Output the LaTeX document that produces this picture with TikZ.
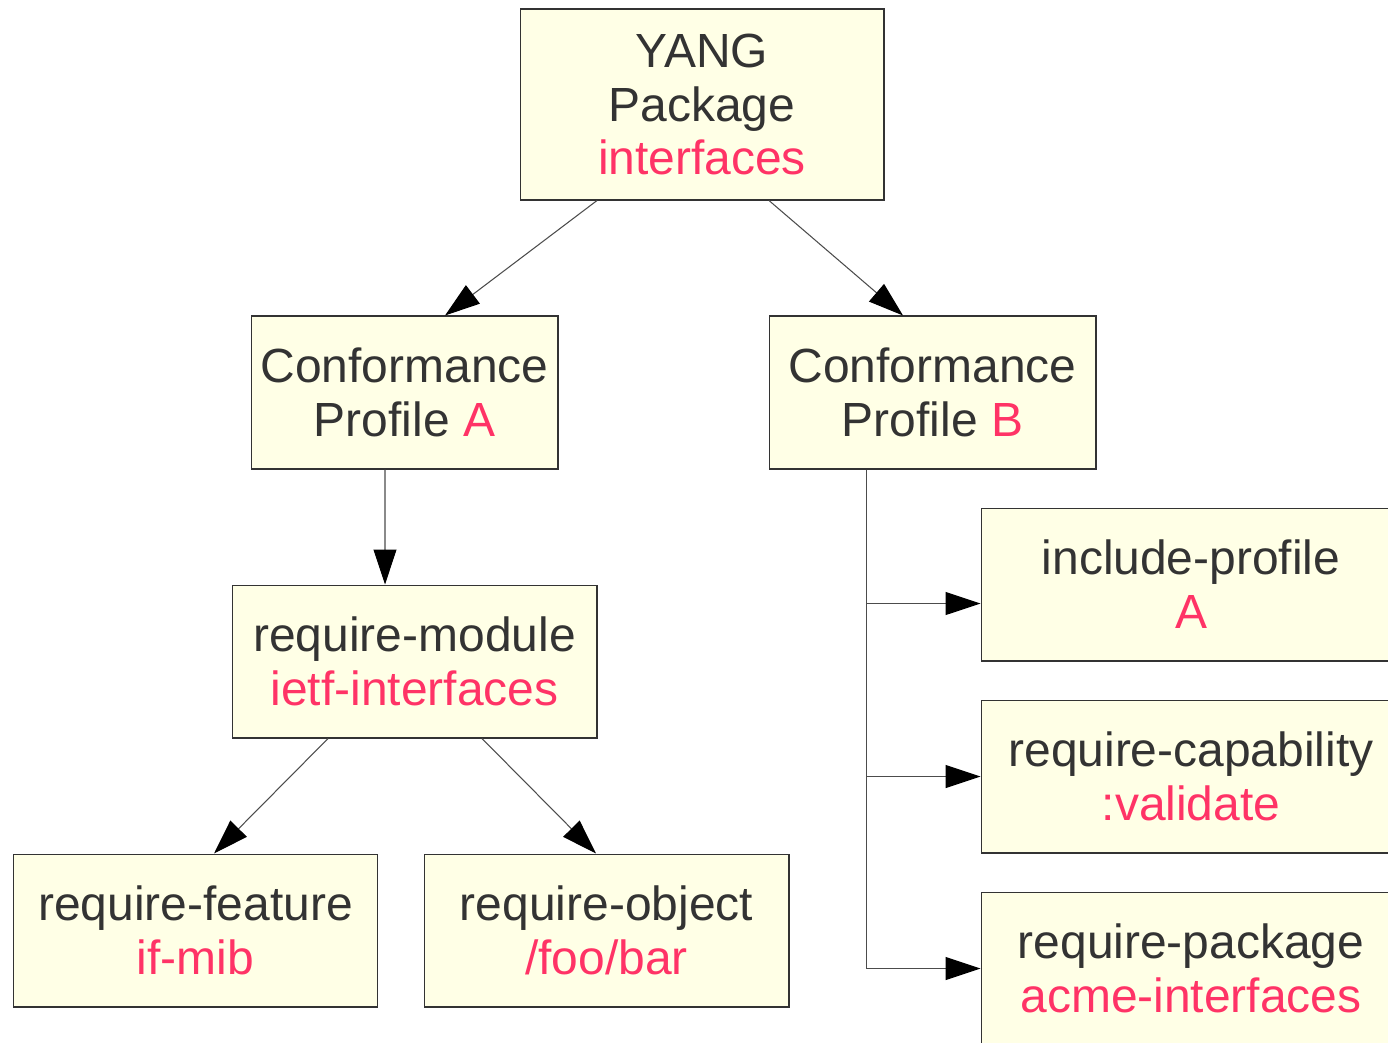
\documentclass[tikz,border=0pt]{standalone}
\usepackage{fontspec}
\setmainfont{Liberation Sans}
\usetikzlibrary{arrows.meta}
\definecolor{boxfill}{HTML}{FFFFE6}
\definecolor{boxline}{HTML}{333333}
\definecolor{txt}{HTML}{333333}
\definecolor{hl}{HTML}{FF3366}
\newcommand{\hl}[1]{\textcolor{hl}{#1}}
\begin{document}
\begin{tikzpicture}[x=0.02cm,y=-0.02cm,
    box/.style={draw=boxline, fill=boxfill, line width=0.6pt, align=center,
      text=txt, inner sep=0pt, minimum height=3.06cm,
      font=\fontsize{27.3}{30.7}\selectfont},
    link/.style={draw=black!70, line width=0.6pt,
      -{Triangle[length=0.7cm,width=0.46cm,black]}}]
 \clip (0,0) rectangle (1388,1042);
 \node[box, minimum width=7.28cm, minimum height=3.82cm] (pkg) at (702,104.5)
   {YANG\\Package\\\hl{interfaces}};
 \node[box, minimum width=6.14cm] (profA) at (404.5,392.5) {Conformance\\Profile \hl{A}};
 \node[box, minimum width=6.54cm] (profB) at (932.5,392.5) {Conformance\\Profile \hl{B}};
 \node[box, minimum width=7.3cm] (module) at (414.5,661.5)
   {require-module\\\hl{ietf-interfaces}};
 \node[box, minimum width=7.3cm] (feature) at (195.5,930.5)
   {require-feature\\\hl{if-mib}};
 \node[box, minimum width=7.3cm] (object) at (606.5,930.5)
   {require-object\\\hl{/foo/bar}};
 \node[box, minimum width=8.4cm] (incl) at (1191,584.5) {include-profile\\\hl{A}};
 \node[box, minimum width=8.4cm] (cap) at (1191,776.5)
   {require-capability\\\hl{:validate}};
 \node[box, minimum width=8.4cm] (reqpkg) at (1191,968.5)
   {require-package\\\hl{acme-interfaces}};
 % connectors
 \draw[link] ([xshift=-2.1cm]pkg.south) -- ([xshift=0.81cm]profA.north);
 \draw[link] ([xshift=1.34cm]pkg.south) -- ([xshift=-0.59cm]profB.north);
 \draw[link] ([xshift=-0.39cm]profA.south) -- ([xshift=-0.59cm]module.north);
 \draw[link] ([xshift=-1.73cm]module.south) -- ([xshift=0.37cm]feature.north);
 \draw[link] ([xshift=1.35cm]module.south) -- ([xshift=-0.21cm]object.north);
 \draw[link] ([xshift=-1.33cm]profB.south) |- ([yshift=-0.38cm]incl.west);
 \draw[link] ([xshift=-1.33cm]profB.south) |- (cap.west);
 \draw[link] ([xshift=-1.33cm]profB.south) |- (reqpkg.west);
\end{tikzpicture}
\end{document}
